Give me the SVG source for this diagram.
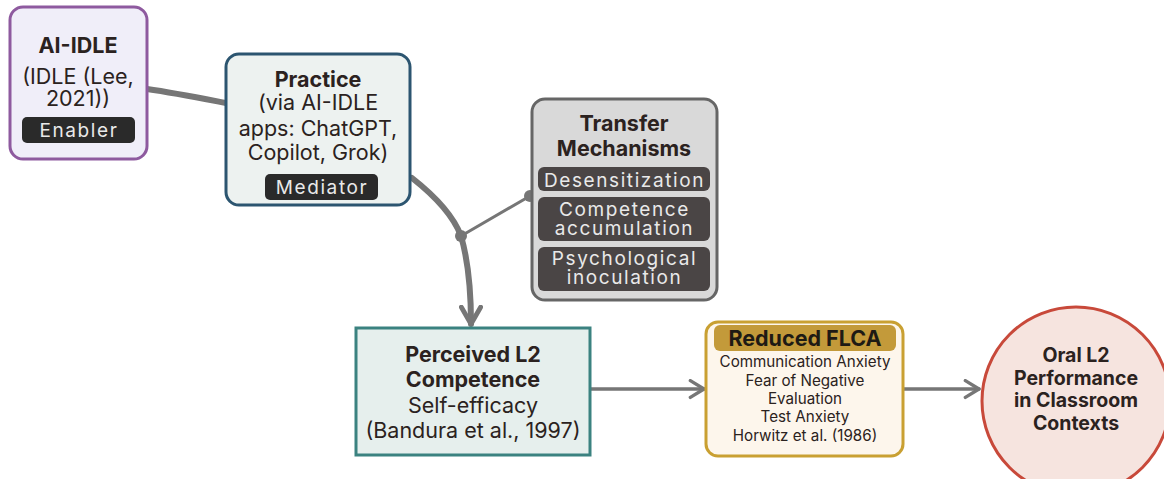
<svg xmlns="http://www.w3.org/2000/svg" width="1164" height="479" viewBox="0 0 1164 479">
<defs>
<marker id="chev" viewBox="0 0 10 10" refX="8" refY="5" markerWidth="4" markerHeight="4" orient="auto" markerUnits="strokeWidth">
<path d="M1,1 L8,5 L1,9" fill="none" stroke="#767676" stroke-width="2" stroke-linecap="round" stroke-linejoin="round"/>
</marker>
<marker id="chev2" viewBox="0 0 10 10" refX="8" refY="5" markerWidth="6" markerHeight="6" orient="auto" markerUnits="strokeWidth">
<path d="M1.5,1 L8,5 L1.5,9" fill="none" stroke="#767676" stroke-width="1.6" stroke-linecap="round" stroke-linejoin="round"/>
</marker>
</defs>
<style>
text{font-family:Inter,"Noto Sans","Liberation Sans",sans-serif;text-anchor:middle;fill:#2b2220}
.b{font-weight:700}
.m{font-size:21.5px}
.badge{fill:#e9e9e9;letter-spacing:1.6px;font-size:19px}
.s{font-size:15.2px}
.conn{fill:none;stroke:#767676;stroke-linecap:round}
</style>
<rect width="1164" height="479" fill="#ffffff"/>
<g id="connectors">
<path class="conn" d="M147,89 C175,93 200,98 226,103" stroke-width="6"/>
<path class="conn" d="M412,178 C440,200 455,220 461,236 C468,260 471,290 471,324" stroke-width="6" marker-end="url(#chev)"/>
<line class="conn" x1="461" y1="236" x2="530" y2="196" stroke-width="3"/>
<circle cx="461" cy="236" r="6" fill="#767676"/>
<circle cx="530" cy="196" r="6" fill="#767676"/>
<line class="conn" x1="591" y1="389" x2="704" y2="389" stroke-width="3.5" marker-end="url(#chev2)"/>
<line class="conn" x1="904" y1="389" x2="979" y2="389" stroke-width="3.5" marker-end="url(#chev2)"/>
</g>
<g id="ai-idle">
<rect x="10" y="7" width="137" height="152" rx="13" fill="#f0eef9" stroke="#8e5a9f" stroke-width="3"/>
<text class="m"><tspan x="78" y="53" class="b">AI-IDLE</tspan><tspan x="78" y="84">(IDLE (Lee,</tspan><tspan x="78" y="106">2021))</tspan></text>
<rect x="22" y="117" width="113" height="26" rx="5" fill="#2a2a2a"/>
<text x="79" y="137" class="badge">Enabler</text>
</g>
<g id="practice">
<rect x="226" y="54" width="184" height="151" rx="13" fill="#edf2f0" stroke="#2c5570" stroke-width="3"/>
<text class="m"><tspan x="318" y="87" class="b">Practice</tspan><tspan x="318" y="110">(via AI-IDLE</tspan><tspan x="318" y="136">apps: ChatGPT,</tspan><tspan x="318" y="160">Copilot, Grok)</tspan></text>
<rect x="265" y="174" width="113" height="26" rx="5" fill="#2a2a2a"/>
<text x="322" y="194" class="badge">Mediator</text>
</g>
<g id="transfer">
<rect x="532" y="99" width="185" height="201" rx="13" fill="#d9d9d9" stroke="#666666" stroke-width="3"/>
<text class="b m"><tspan x="624" y="131">Transfer</tspan><tspan x="624" y="156">Mechanisms</tspan></text>
<rect x="538" y="167" width="172" height="24" rx="6" fill="#4a4545"/>
<text x="624.5" y="187" class="badge">Desensitization</text>
<rect x="538" y="197" width="172" height="44" rx="6" fill="#4a4545"/>
<text class="badge"><tspan x="624.5" y="216">Competence</tspan><tspan x="624.5" y="235">accumulation</tspan></text>
<rect x="538" y="247" width="172" height="44" rx="6" fill="#4a4545"/>
<text class="badge"><tspan x="624.5" y="265">Psychological</tspan><tspan x="624.5" y="284">inoculation</tspan></text>
</g>
<g id="perceived">
<rect x="356" y="328" width="234" height="127" fill="#e6efed" stroke="#3b8280" stroke-width="3"/>
<text class="m"><tspan x="473" y="362" class="b">Perceived L2</tspan><tspan x="473" y="387" class="b">Competence</tspan><tspan x="473" y="413">Self-efficacy</tspan><tspan x="473" y="438">(Bandura et al., 1997)</tspan></text>
</g>
<g id="flca">
<rect x="706" y="322" width="197" height="134" rx="12" fill="#fdf6ec" stroke="#c9a032" stroke-width="3"/>
<rect x="714" y="325" width="182" height="26" rx="6" fill="#c39a3a"/>
<text x="805" y="346" class="b" font-size="21.5" style="fill:#1e1a14">Reduced FLCA</text>
<text class="s"><tspan x="805" y="367">Communication Anxiety</tspan><tspan x="805" y="386">Fear of Negative</tspan><tspan x="805" y="404">Evaluation</tspan><tspan x="805" y="422">Test Anxiety</tspan><tspan x="805" y="441">Horwitz et al. (1986)</tspan></text>
</g>
<g id="oral">
<circle cx="1076" cy="401" r="94" fill="#f6e4df" stroke="#c8493a" stroke-width="3"/>
<text class="b" font-size="19.5"><tspan x="1076" y="362">Oral L2</tspan><tspan x="1076" y="385">Performance</tspan><tspan x="1076" y="407">in Classroom</tspan><tspan x="1076" y="430">Contexts</tspan></text>
</g>
</svg>
